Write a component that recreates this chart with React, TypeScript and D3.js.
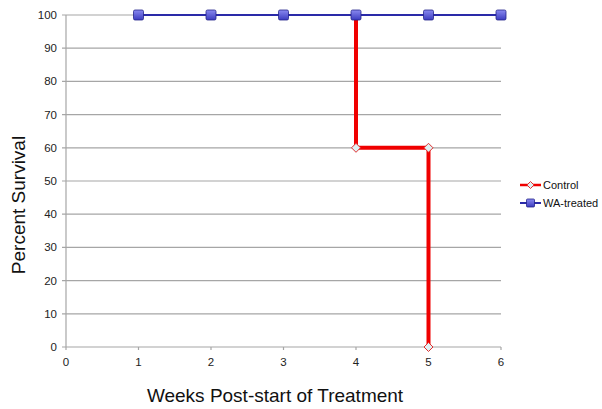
import React from "react";
import * as d3 from "d3";

const xTicks = [0, 1, 2, 3, 4, 5, 6];
const yTicks = [0, 10, 20, 30, 40, 50, 60, 70, 80, 90, 100];
const controlWeeks = [4, 4, 5, 5];
const controlValues = [100, 60, 60, 0];
const treatedWeeks = [1, 2, 3, 4, 5, 6];
const treatedValues = [100, 100, 100, 100, 100, 100];
const seriesNames = ["Control", "WA-treated"];

export default function App() {
  const W = 602, H = 409;
  const x = d3.scaleLinear().domain([0, 6]).range([66, 501]);
  const y = d3.scaleLinear().domain([0, 100]).range([347, 15]);
  const font = "Helvetica, Arial, 'Liberation Sans', sans-serif";
  const control = controlWeeks.map((w, i) => [w, controlValues[i]] as [number, number]);
  const treated = treatedWeeks.map((w, i) => [w, treatedValues[i]] as [number, number]);
  const line = d3.line<[number, number]>().x(d => x(d[0])).y(d => y(d[1]));
  const diamond = (cx: number, cy: number, r = 4.5) =>
    `M${cx},${cy - r}L${cx + r},${cy}L${cx},${cy + r}L${cx - r},${cy}Z`;
  const controlMarkers = control.filter(d => d[1] < 100);
  return (
    <svg width={W} height={H} style={{ position: "absolute", left: 0, top: 0, background: "#fff" }}>
      <defs>
        <linearGradient id="sq" x1="0" y1="0" x2="0" y2="1">
          <stop offset="0" stopColor="#8a8af0" />
          <stop offset="1" stopColor="#3c3cc0" />
        </linearGradient>
      </defs>
      {yTicks.map(t => (
        <g key={t}>
          <line x1={62} x2={x(6)} y1={y(t)} y2={y(t)} stroke="#a6a6a6" strokeWidth={1.2} />
          <text x={57} y={y(t) + 4} textAnchor="end" fontSize={11.5} fontFamily={font} fill="#222">{t}</text>
        </g>
      ))}
      <line x1={x(0)} x2={x(0)} y1={y(100)} y2={y(0)} stroke="#a6a6a6" strokeWidth={1.2} />
      {xTicks.map(t => (
        <g key={t}>
          <line x1={x(t)} x2={x(t)} y1={y(0)} y2={y(0) + 3} stroke="#a6a6a6" strokeWidth={1.2} />
          <text x={x(t)} y={y(0) + 19} textAnchor="middle" fontSize={11.5} fontFamily={font} fill="#222">{t}</text>
        </g>
      ))}
      <path d={line(control) || ""} fill="none" stroke="#f00000" strokeWidth={4} />
      {controlMarkers.map((d, i) => (
        <path key={i} d={diamond(x(d[0]), y(d[1]))} fill="#dff2f4" stroke="#e03030" strokeWidth={1} />
      ))}
      <path d={line(treated) || ""} fill="none" stroke="#2a2aa8" strokeWidth={2} />
      {treated.map((d, i) => (
        <rect key={i} x={x(d[0]) - 5} y={y(d[1]) - 5} width={10} height={10} rx={1.5}
          fill="url(#sq)" stroke="#24248a" strokeWidth={0.8} />
      ))}
      <text transform={`translate(25,205) rotate(-90)`} textAnchor="middle"
        fontSize={19} fontFamily={font} fill="#111">Percent Survival</text>
      <text x={275} y={402} textAnchor="middle" fontSize={19} fontFamily={font} fill="#111">
        Weeks Post-start of Treatment
      </text>
      <g>
        <line x1={520} x2={541} y1={185} y2={185} stroke="#f00000" strokeWidth={2.5} />
        <path d={diamond(530.5, 185, 3.5)} fill="#dff2f4" stroke="#e03030" strokeWidth={1} />
        <text x={543} y={189} fontSize={11} fontFamily={font} fill="#111">{seriesNames[0]}</text>
        <line x1={520} x2={541} y1={203} y2={203} stroke="#2a2aa8" strokeWidth={2} />
        <rect x={526.5} y={199} width={8} height={8} rx={1} fill="url(#sq)" stroke="#24248a" strokeWidth={0.8} />
        <text x={543} y={207} fontSize={11} fontFamily={font} fill="#111">{seriesNames[1]}</text>
      </g>
    </svg>
  );
}
